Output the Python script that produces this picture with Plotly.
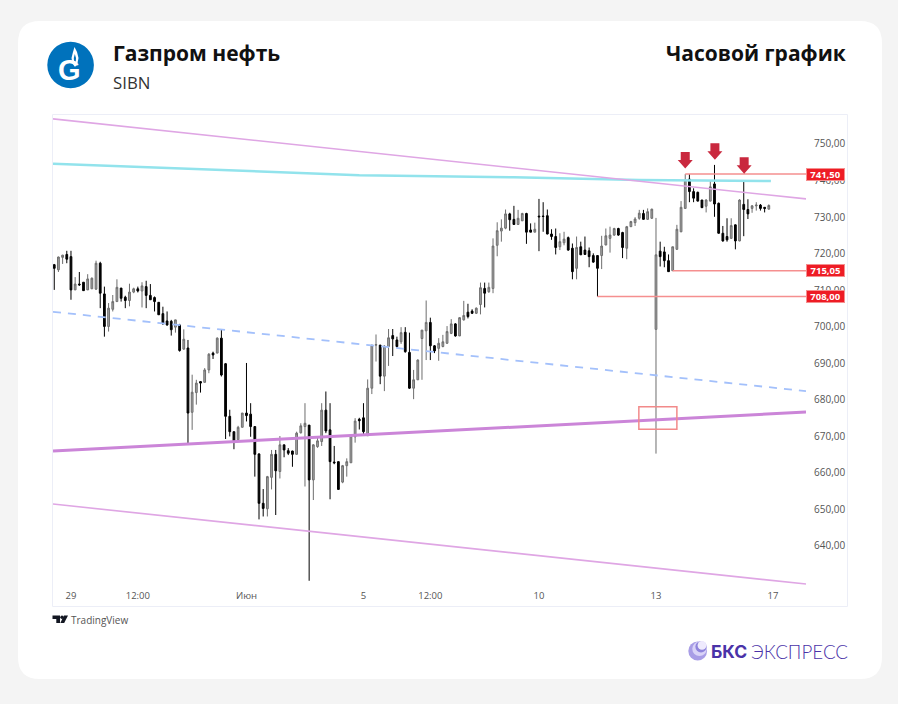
import plotly.graph_objects as go

W, H = 898, 704

# Hourly OHLC for SIBN, one row per session hour
opens = [716.7,715.3,718.7,719.5,718.9,709.8,711.4,711.9,709.8,710.1,710.0,717.1,708.7,699.8,704.5,706.6,710.3,707.8,706.9,709.2,
         710.1,709.5,710.7,708.3,707.7,706.4,703.3,701.3,701.2,699.6,700.2,693.6,693.9,676.3,681.7,684.7,684.5,687.9,692.5,692.5,
         696.6,689.6,675.2,671.0,668.8,672.2,676.1,675.8,672.4,664.9,651.4,649.9,658.5,664.8,660.1,667.4,665.8,665.7,664.8,670.7,
         672.4,672.8,657.8,666.9,668.3,676.9,671.5,662.7,662.8,657.2,661.7,662.5,669.6,674.4,674.8,669.9,682.9,694.7,694.7,686.2,
         694.3,697.3,696.1,695.6,698.2,692.7,682.9,685.2,696.5,698.6,700.9,694.5,693.8,694.3,695.2,697.9,700.5,697.2,701.6,703.7,
         704.0,703.4,705.8,710.2,709.3,710.2,722.0,725.9,726.7,730.6,729.1,727.7,728.7,730.7,726.2,725.6,730.0,730.0,730.1,725.1,
         724.4,721.6,722.7,724.1,721.2,715.7,721.6,720.7,720.5,719.2,719.2,719.2,722.1,723.9,724.8,726.6,725.5,721.2,727.1,728.2,
         729.4,730.7,729.1,729.4,699.0,720.4,720.2,717.8,715.05,720.9,725.7,732.1,740.1,736.7,736.5,734.4,732.7,734.1,738.8,733.5,
         725.3,724.4,723.9,727.6,723.2,733.2,731.8,732.1,732.8,733.0,732.4,731.9]
highs = [716.9,718.9,719.4,720.5,720.5,713.3,714.7,711.9,714.1,713.2,717.8,717.5,710.7,706.2,708.4,712.7,710.3,708.2,711.5,710.4,
         710.7,711.9,712.3,711.4,708.0,706.4,705.2,703.9,701.6,701.6,700.5,699.0,696.1,686.6,685.2,684.7,688.4,692.5,692.9,696.8,
         698.9,689.8,677.0,671.0,672.6,676.1,689.8,678.8,672.4,665.1,655.3,658.9,666.0,666.0,669.8,667.4,666.5,665.8,671.0,673.3,
         678.8,672.8,667.6,669.7,678.8,682.0,678.8,667.1,662.8,661.9,663.7,669.9,674.7,674.8,678.8,685.3,694.7,697.6,694.7,694.7,
         699.1,699.1,697.0,699.6,699.6,698.1,687.9,690.8,698.8,706.9,702.2,694.7,696.6,697.5,699.9,701.8,700.7,702.3,706.8,706.0,
         704.5,705.0,711.8,711.8,711.8,723.9,728.3,729.1,731.8,730.9,732.8,731.7,730.9,730.9,728.0,728.2,734.7,733.8,731.8,726.4,
         726.6,725.3,725.7,724.4,722.5,724.4,723.0,724.4,721.4,719.8,719.3,724.6,726.6,727.1,726.8,726.8,725.7,727.3,728.7,729.7,
         731.7,731.7,732.1,732.0,729.5,723.0,721.6,719.5,721.6,727.6,734.1,741.5,741.5,737.6,736.7,734.4,734.6,739.7,744.0,733.7,
         727.3,729.4,729.4,727.7,734.6,739.4,734.6,733.0,733.8,733.3,732.4,733.2]
lows = [709.8,714.7,716.9,717.1,707.1,709.8,710.9,709.6,709.8,710.1,709.8,704.8,697.0,698.4,703.9,706.6,706.6,704.8,705.3,708.9,
        709.1,705.0,704.8,707.1,703.9,703.0,700.2,700.0,697.3,698.1,692.9,693.4,667.9,671.5,678.4,681.7,684.5,687.0,690.9,692.5,
        686.1,669.0,669.7,666.2,668.8,672.2,673.8,669.6,658.7,647.0,647.8,647.8,655.2,648.2,658.2,664.0,664.6,661.4,664.8,670.5,
        656.0,630.2,652.3,666.6,667.1,670.6,652.5,662.1,655.2,656.9,658.7,662.5,668.0,671.6,669.9,669.9,681.3,690.2,684.0,682.1,
        689.0,691.7,694.0,695.0,692.6,682.7,679.9,685.2,685.2,690.6,690.6,692.5,690.4,694.1,695.0,697.7,697.0,697.2,701.4,702.0,
        703.2,703.2,703.1,705.0,709.0,708.9,719.0,723.0,726.4,726.0,727.6,727.6,728.7,722.4,725.6,725.6,720.4,725.7,725.0,723.5,
        719.5,720.7,722.0,720.5,712.7,712.7,719.4,719.4,716.0,717.2,708.0,715.5,722.0,720.0,724.6,724.6,718.5,718.2,727.0,727.3,
        729.0,729.0,729.0,729.2,665.0,716.2,716.0,714.7,715.05,720.8,725.6,732.0,733.8,733.8,734.0,732.2,731.0,734.0,729.8,725.2,
        723.0,723.0,723.8,720.9,723.1,724.5,729.2,730.9,731.5,731.5,731.0,731.8]
closes = [715.7,718.8,719.3,718.2,709.8,711.4,711.2,709.6,712.8,713.0,717.1,708.9,699.8,704.8,706.6,710.5,707.5,706.9,709.2,710.1,
          709.5,710.9,708.3,707.1,706.6,703.0,700.7,700.2,698.9,701.6,693.2,696.3,676.1,681.8,684.3,684.3,687.9,692.2,692.0,696.6,
          686.5,675.2,671.0,668.3,672.2,676.1,675.4,672.4,664.8,651.4,650.0,658.7,664.8,660.3,667.4,666.0,665.1,664.8,670.6,672.6,
          673.3,657.8,667.4,668.5,676.9,671.2,662.8,662.5,655.2,661.7,662.8,669.9,673.9,674.0,671.0,682.9,694.7,694.8,686.2,694.4,
          696.7,696.4,694.3,698.1,692.9,682.9,685.2,690.6,698.8,700.9,694.5,693.1,695.2,695.6,698.4,700.5,697.2,702.2,702.8,702.5,
          703.4,704.8,710.4,708.9,710.5,721.8,726.0,726.7,730.6,729.0,727.7,729.4,730.7,725.6,725.6,726.4,729.8,729.9,725.1,724.4,
          721.4,723.0,723.7,720.7,714.8,721.4,719.4,719.5,718.9,717.4,715.7,721.8,724.6,724.8,726.6,724.8,721.4,727.1,728.5,729.2,
          730.8,729.1,731.2,731.9,719.4,718.9,717.8,714.8,721.6,726.4,732.4,739.9,736.7,734.9,734.1,732.3,734.4,738.0,733.3,725.3,
          723.2,723.5,727.4,723.2,734.4,731.8,730.6,732.8,733.0,732.1,732.1,732.9]
bar_index = list(range(len(opens)))

# Time axis
time_tick_bars = [4, 20, 46, 74, 90, 116, 144, 172]
time_tick_labels = ["29", "12:00", "Июн", "5", "12:00", "10", "13", "17"]

# Price axis
price_ticks = [750, 740, 730, 720, 710, 700, 690, 680, 670, 660, 650, 640]
price_tick_labels = ["750,00", "740,00", "730,00", "720,00", "710,00", "700,00", "690,00",
                     "680,00", "670,00", "660,00", "650,00", "640,00"]

# Trend channel end points (left and right edge of the pane)
edge_bars = [-0.3, 179.9]
channel_upper = [756.6, 734.7]
channel_mid = [703.8, 682.1]
channel_base = [665.7, 676.4]
channel_lower = [651.2, 629.3]

# Long moving average
ma_bars = [-0.3, 40, 73, 110, 140, 171.5]
ma_values = [744.3, 742.6, 741.2, 740.6, 739.9, 739.6]

# Marked price levels: value, bar where the line starts
level_values = [741.50, 715.05, 708.00]
level_labels = ["741,50", "715,05", "708,00"]
level_start_bars = [151, 148, 130]

# Bars marked with arrows (bar, price at the arrow tip)
arrow_bars = [151.0, 158.1, 165.1]
arrow_tips = [743.0, 745.4, 741.6]

# Box around the retest
box_bars = [139.9, 149.0]
box_prices = [671.7, 677.8]

X_RANGE = [-0.3, 179.9]
Y_RANGE = [623.3, 757.66]
BAR_COLOR_UP = "#a4a4a4"


def px(x):
    return x / W


def py(y):
    return 1 - y / H


def poly(points):
    return "M " + " L ".join(f"{px(x):.5f} {py(y):.5f}" for x, y in points) + " Z"


def paper_shape(path, fill, line=None, width=0, layer="below"):
    return dict(type="path", xref="paper", yref="paper", path=path, fillcolor=fill,
                line=dict(color=line or fill, width=width), layer=layer)


def circle(cx, cy, r, fill, layer="above"):
    return dict(type="circle", xref="paper", yref="paper", x0=px(cx - r), x1=px(cx + r),
                y0=py(cy + r), y1=py(cy - r), fillcolor=fill, line=dict(width=0), layer=layer)


def rounded(x0, y0, x1, y1, r):
    c = [("M", x0 + r, y0), ("L", x1 - r, y0), ("Q", x1, y0, x1, y0 + r), ("L", x1, y1 - r),
         ("Q", x1, y1, x1 - r, y1), ("L", x0 + r, y1), ("Q", x0, y1, x0, y1 - r),
         ("L", x0, y0 + r), ("Q", x0, y0, x0 + r, y0)]
    out = []
    for seg in c:
        nums = seg[1:]
        pairs = [f"{px(nums[i]):.5f} {py(nums[i + 1]):.5f}" for i in range(0, len(nums), 2)]
        out.append(seg[0] + " " + " ".join(pairs))
    return " ".join(out) + " Z"


fig = go.Figure()

# Card and chart frame
shapes = [
    paper_shape(rounded(18, 21, 882, 679, 22), "#ffffff"),
    dict(type="rect", xref="paper", yref="paper", x0=px(52.5), x1=px(847.5), y0=py(606.5), y1=py(114.5),
         line=dict(color="#eceef7", width=1), fillcolor="rgba(0,0,0,0)", layer="below"),
]

# Company badge
shapes.append(circle(70.6, 65, 23.3, "#0072bc"))
shapes.append(paper_shape(poly([(74.5, 47), (77, 52), (78.5, 58), (77.5, 63), (75, 67),
                                (72.5, 63), (71.5, 58), (73, 52)]), "#ffffff", layer="above"))
shapes.append(paper_shape(poly([(74.8, 54), (76, 58), (75.8, 61), (75, 64), (74, 61), (73.8, 58)]),
                          "#0072bc", layer="above"))

# Broker mark
shapes.append(circle(697.7, 651, 9.4, "#a89de6"))
shapes.append(circle(699.5, 648.8, 7.2, "#d9d3f7"))
shapes.append(circle(701, 646.8, 5.6, "#8f84dc"))
shapes.append(circle(702, 645.4, 4.4, "#eeeafd"))

# TradingView mark
shapes.append(paper_shape(poly([(52.5, 615.5), (60, 615.5), (60, 623), (56.3, 623), (56.3, 619), (52.5, 619)]),
                          "#131722", layer="above"))
shapes.append(circle(62, 617.3, 1.7, "#131722"))
shapes.append(paper_shape(poly([(64, 615.5), (68, 615.5), (64.2, 623), (60.3, 623)]), "#131722", layer="above"))

# Level lines
for value, start in zip(level_values, level_start_bars):
    shapes.append(dict(type="line", xref="x", yref="y", x0=start, x1=X_RANGE[1], y0=value, y1=value,
                       line=dict(color="#f58f8f", width=1.5), layer="above"))

# Retest box
shapes.append(dict(type="rect", xref="x", yref="y", x0=box_bars[0], x1=box_bars[1],
                   y0=box_prices[0], y1=box_prices[1], line=dict(color="#f28a8a", width=1.5),
                   fillcolor="rgba(0,0,0,0)", layer="above"))

# Arrows pinned to their bars, sized in pixels
for bar, tip in zip(arrow_bars, arrow_tips):
    shapes.append(dict(type="path", xref="x", yref="y", xsizemode="pixel", ysizemode="pixel",
                       xanchor=bar, yanchor=tip, fillcolor="#c9283e", line=dict(width=0), layer="above",
                       path="M 0 0 L -7.5 8.5 L -4.5 8.5 L -4.5 16.5 L 4.5 16.5 L 4.5 8.5 L 7.5 8.5 Z"))

fig.add_trace(go.Scatter(x=ma_bars, y=ma_values, mode="lines", line=dict(color="#92e3ec", width=2.5),
                         hoverinfo="skip", showlegend=False))
for values, color, width, dash in [
    (channel_upper, "#dfa6e4", 1.6, "solid"),
    (channel_lower, "#dfa6e4", 1.6, "solid"),
    (channel_base, "#cb85d8", 3, "solid"),
    (channel_mid, "#a3c0fb", 1.8, "8px,7px"),
]:
    fig.add_trace(go.Scatter(x=edge_bars, y=values, mode="lines", line=dict(color=color, width=width, dash=dash),
                             hoverinfo="skip", showlegend=False))

fig.add_trace(go.Candlestick(
    x=bar_index, open=opens, high=highs, low=lows, close=closes, showlegend=False,
    whiskerwidth=0,
    increasing=dict(line=dict(color="#6e6e6e", width=1), fillcolor=BAR_COLOR_UP),
    decreasing=dict(line=dict(color="#000000", width=1), fillcolor="#000000"),
))


def note(x, y, text, size, color, anchor="left", bold=False, family="Open Sans"):
    label = f"<b>{text}</b>" if bold else text
    return dict(xref="paper", yref="paper", x=px(x), y=py(y), text=label, showarrow=False, xanchor=anchor,
                yanchor="middle", font=dict(size=size, color=color, family=family))


annotations = [
    note(111, 53.5, "Газпром нефть", 21, "#111111", bold=True),
    note(111, 82.5, "SIBN", 16.8, "#333333"),
    note(848, 52.5, "Часовой график", 21, "#111111", anchor="right", bold=True),
    note(55.5, 70, "G", 29, "#ffffff", bold=True, family="Liberation Sans"),
    note(69, 620, "TradingView", 10, "#555555"),
    note(709, 651, "БКС", 17.5, "#4a32a8", bold=True, family="Inter"),
    note(749, 651, "ЭКСПРЕСС", 18.8, "#4a32a8", family="Lato Light, Lato"),
]
for value, label in zip(level_values, level_labels):
    annotations.append(dict(xref="paper", yref="y", x=px(825.5), y=value, text=f"<b>{label}</b>", showarrow=False,
                            xanchor="center", yanchor="middle", bgcolor="#ee1c25", bordercolor="#f58f8f",
                            borderwidth=1, borderpad=1, width=35, height=9,
                            font=dict(size=9.5, color="#ffffff", family="Open Sans")))

fig.update_layout(
    width=W, height=H, margin=dict(l=0, r=0, t=0, b=0),
    paper_bgcolor="#f4f4f4", plot_bgcolor="rgba(0,0,0,0)",
    shapes=shapes, annotations=annotations, showlegend=False, boxgap=0.4,
    xaxis=dict(domain=[px(53), px(806)], range=X_RANGE, rangeslider=dict(visible=False), showgrid=False,
               zeroline=False, showline=False, ticks="", tickmode="array", tickvals=time_tick_bars,
               ticktext=time_tick_labels, ticklabelposition="inside", tickangle=0, ticklabelstandoff=2,
               tickfont=dict(size=9.5, color="#555555", family="Open Sans")),
    yaxis=dict(domain=[py(606), py(115)], range=Y_RANGE, side="right", showgrid=False, zeroline=False,
               showline=False, ticks="", tickmode="array", tickvals=price_ticks, ticktext=price_tick_labels,
               ticklabelstandoff=7, ticklabelshift=1, tickfont=dict(size=10, color="#555555", family="Open Sans")),
)

fig.write_html("out.html")
